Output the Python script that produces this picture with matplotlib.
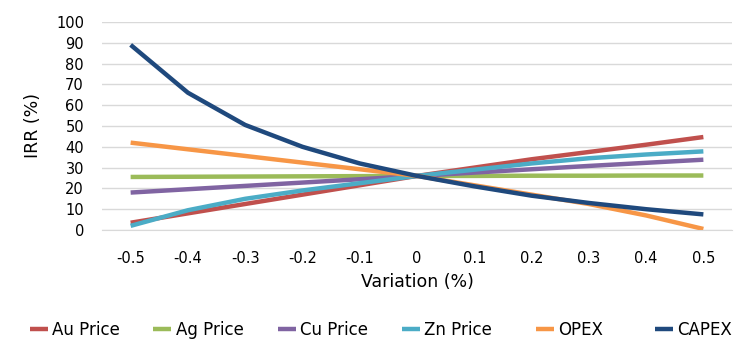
import matplotlib
matplotlib.use("Agg")
import matplotlib.pyplot as plt
from matplotlib.lines import Line2D

variation = [-0.5, -0.4, -0.3, -0.2, -0.1, 0, 0.1, 0.2, 0.3, 0.4, 0.5]
tick_labels = ["-0.5", "-0.4", "-0.3", "-0.2", "-0.1", "0", "0.1", "0.2", "0.3", "0.4", "0.5"]

au_price = [3.5, 8.0, 12.5, 17.0, 21.5, 26.0, 30.0, 34.0, 37.5, 41.0, 44.7]
ag_price = [25.5, 25.6, 25.7, 25.8, 25.9, 26.0, 26.0, 26.1, 26.1, 26.2, 26.2]
cu_price = [18.0, 19.6, 21.2, 22.8, 24.4, 26.0, 27.6, 29.2, 30.8, 32.3, 33.8]
zn_price = [2.0, 9.5, 15.0, 19.0, 22.5, 26.0, 29.0, 32.0, 34.5, 36.3, 37.8]
opex = [42.0, 38.8, 35.6, 32.4, 29.2, 26.0, 21.5, 17.0, 12.5, 7.0, 0.5]
capex = [89.0, 66.0, 50.5, 40.0, 32.0, 26.0, 21.0, 16.5, 13.0, 10.0, 7.5]

series_names = ["Au Price", "Ag Price", "Cu Price", "Zn Price", "OPEX", "CAPEX"]
series_values = [au_price, ag_price, cu_price, zn_price, opex, capex]
colors = ["#C0504D", "#9BBB59", "#8064A2", "#4BACC6", "#F79646", "#1F497D"]

plt.rcParams['font.family'] = ['DejaVu Sans']

fig = plt.figure(figsize=(7.55, 3.54), dpi=100)
ax = fig.add_axes([102 / 755, 1 - 230 / 354, 630 / 755, 208 / 354])

for name, vals, c in zip(series_names, series_values, colors):
    ax.plot(variation, vals, color=c, lw=3.2, label=name, solid_capstyle='butt')

ax.set_xlim(-0.55, 0.55)
ax.set_ylim(0, 100)
ax.set_yticks(range(0, 101, 10))
ax.set_xticks(variation)
ax.set_xticklabels(tick_labels)
ax.grid(axis='y', color='#D9D9D9', lw=1)
ax.set_axisbelow(True)
for s in ['top', 'right', 'left']:
    ax.spines[s].set_visible(False)
ax.spines['bottom'].set_color('#D9D9D9')
ax.tick_params(length=0, labelsize=10.5, colors='#000000')
ax.tick_params(axis='x', pad=15)
ax.tick_params(axis='y', pad=13)
ax.set_xlabel("Variation (%)", fontsize=12.5, labelpad=5)
ax.set_ylabel("IRR (%)", fontsize=12.5, labelpad=10)

legend_x = [30, 153, 278, 402, 536, 655]
for name, c, lx in zip(series_names, colors, legend_x):
    h = Line2D([], [], color=c, lw=3.2, solid_capstyle='butt')
    fig.legend([h], [name], loc='center left',
               bbox_to_anchor=(lx / 755, 1 - 330 / 354),
               frameon=False, fontsize=12, handlelength=1.1,
               handletextpad=0.25, borderpad=0, borderaxespad=0)

fig.savefig("out.png", dpi=100)
